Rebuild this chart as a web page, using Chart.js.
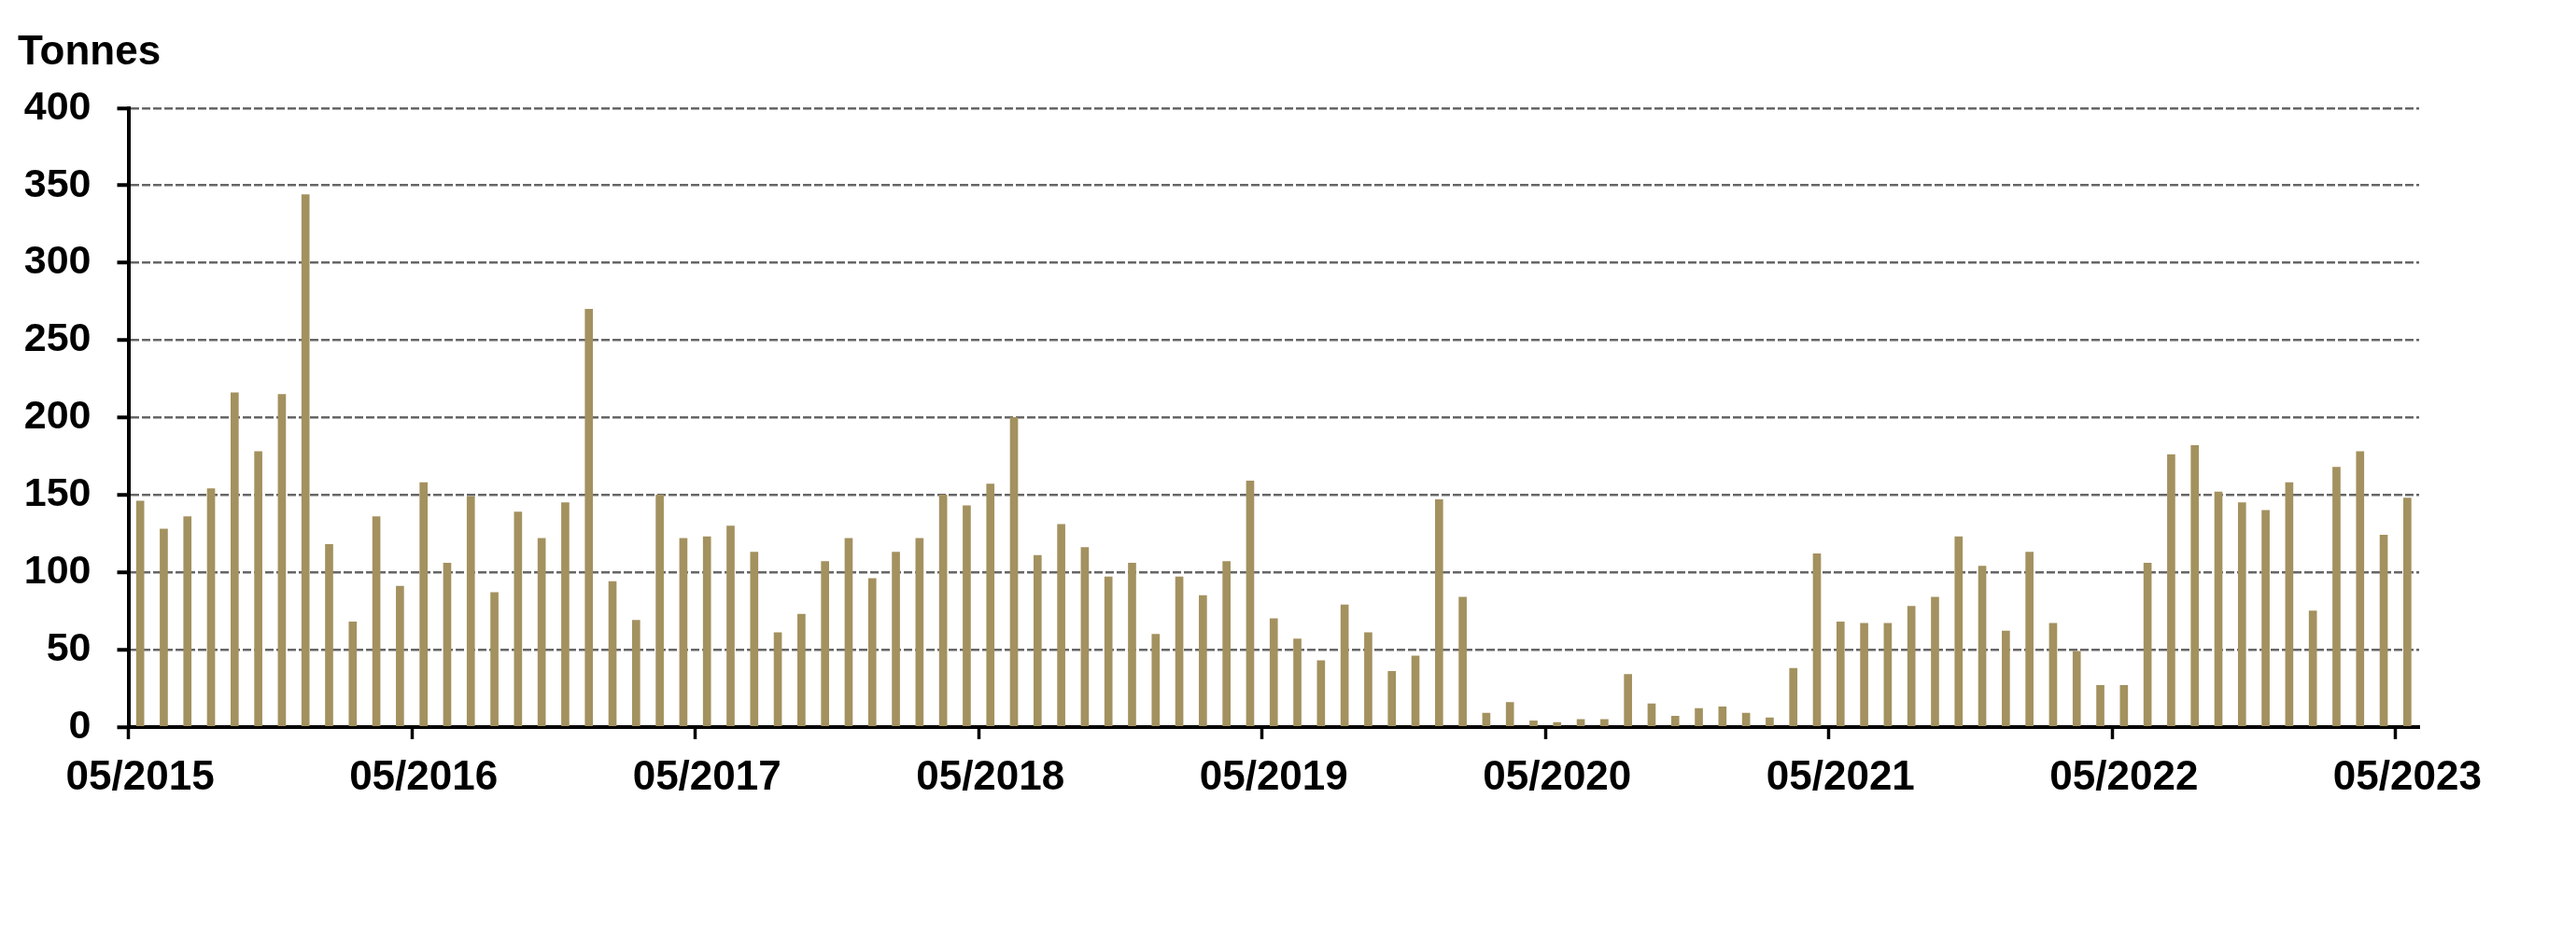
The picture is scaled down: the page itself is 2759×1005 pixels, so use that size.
<!DOCTYPE html>
<html>
<head>
<meta charset="utf-8">
<title>Tonnes</title>
<script src="https://cdn.jsdelivr.net/npm/chart.js@4.4.1/dist/chart.umd.min.js"></script>
<style>
    html, body { margin: 0; padding: 0; background: #fff; }
    #wrap { width: 2759px; height: 1005px; position: relative; }
</style>
</head>
<body>
<div id="wrap"><canvas id="tonnesChart"></canvas></div>
<script>
// Months shown on the x axis, 05/2015 .. 05/2023
const firstYear = 2015;
const firstMonth = 5;
const monthCount = 97;

// Monthly values (tonnes)
const tonnes = [
    146, 128, 136, 154, 216, 178, 215, 344,                  // 05-12/2015
    118, 68, 136, 91, 158, 106, 149, 87, 139, 122, 145, 270, // 2016
    94, 69, 150, 122, 123, 130, 113, 61, 73, 107, 122, 96,   // 2017
    113, 122, 150, 143, 157, 200, 111, 131, 116, 97, 106, 60, // 2018
    97, 85, 107, 159, 70, 57, 43, 79, 61, 36, 46, 147,       // 2019
    84, 9, 16, 4, 3, 5, 5, 34, 15, 7, 12, 13,                // 2020
    9, 6, 38, 112, 68, 67, 67, 78, 84, 123, 104, 62,         // 2021
    113, 67, 49, 27, 27, 106, 176, 182, 152, 145, 140, 158,  // 2022
    75, 168, 178, 124, 148                                   // 01-05/2023
];

// Y axis ticks
const yMin = 0;
const yMax = 400;
const yStep = 50;

const colors = {
    bar: '#a3915f',
    grid: '#666666',
    text: '#000'
};

const fontFamily = '"Liberation Sans", Arial, Helvetica, sans-serif';

// --- labels "MM/YYYY" ---
function buildMonthLabels() {
    const labels = [];
    for (let i = 0; i < monthCount; i++) {
        const m = (firstMonth - 1 + i) % 12 + 1;
        const y = firstYear + Math.floor((firstMonth - 1 + i) / 12);
        labels.push(String(m).padStart(2, '0') + '/' + y);
    }
    return labels;
}

function renderChart() {
    const ctx = document.getElementById('tonnesChart').getContext('2d');
    const labels = buildMonthLabels();

    new Chart(ctx, {
        type: 'bar',
        data: {
            labels: labels,
            datasets: [{
                label: 'Tonnes',
                data: tonnes,
                backgroundColor: colors.bar,
                borderWidth: 0,
                barThickness: 8
            }]
        },
        options: {
            responsive: true,
            maintainAspectRatio: false,
            animation: false,
            layout: {
                padding: { left: 19, right: 168, top: 0, bottom: 126 }
            },
            plugins: {
                legend: { display: false },
                tooltip: { enabled: false },
                title: {
                    display: true,
                    text: 'Tonnes',
                    align: 'start',
                    color: colors.text,
                    font: { family: fontFamily, size: 44, weight: 'bold' },
                    padding: { top: 30, bottom: 33 }
                }
            },
            scales: {
                x: {
                    type: 'category',
                    offset: true,
                    grid: {
                        offset: true,
                        drawOnChartArea: false,
                        drawTicks: true,
                        tickLength: 13,
                        tickWidth: 3.5,
                        tickColor: (c) => (c.index % 12 === 0 && c.index < monthCount) ? '#000' : 'rgba(0,0,0,0)'
                    },
                    border: { display: true, color: '#000', width: 4 },
                    ticks: {
                        autoSkip: false,
                        maxRotation: 0,
                        minRotation: 0,
                        padding: 15,
                        color: colors.text,
                        font: { family: fontFamily, size: 44, weight: 'bold' },
                        callback: function(value, index) {
                            return index % 12 === 0 ? labels[index] : '';
                        }
                    },
                    afterFit: (scale) => { scale.height = 100; }
                },
                y: {
                    min: yMin,
                    max: yMax,
                    grid: {
                        color: colors.grid,
                        lineWidth: 2.5,
                        drawTicks: true,
                        tickLength: 12,
                        tickWidth: 4,
                        tickColor: '#000'
                    },
                    border: { display: true, color: '#000', width: 4, dash: [9, 3] },
                    ticks: {
                        stepSize: yStep,
                        padding: 28,
                        color: colors.text,
                        font: { family: fontFamily, size: 43, weight: 'bold' }
                    },
                    afterFit: (scale) => { scale.width = 118.5; }
                }
            }
        }
    });
}

document.addEventListener('DOMContentLoaded', renderChart);
</script>
</body>
</html>
